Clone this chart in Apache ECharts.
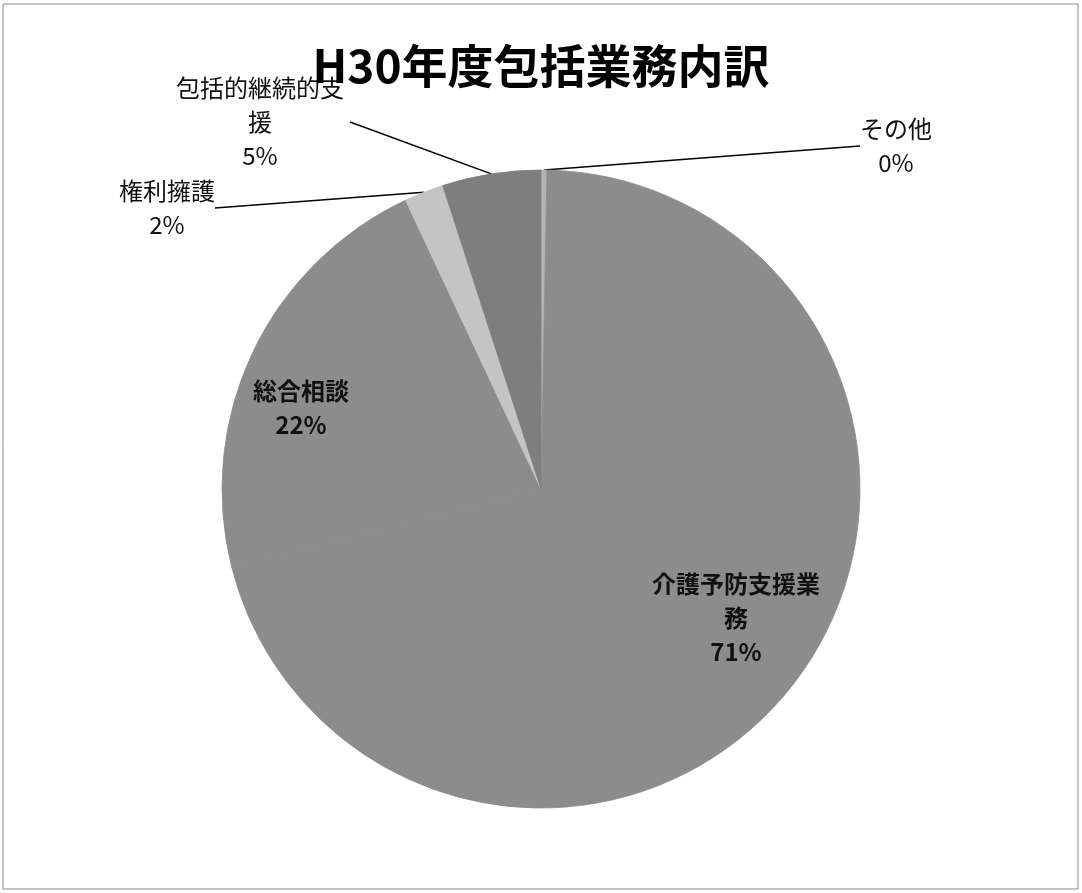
<!DOCTYPE html>
<html><head><meta charset="utf-8">
<script src="https://cdn.jsdelivr.net/npm/echarts@6/dist/echarts.min.js"></script>
<style>html,body{margin:0;padding:0;background:#fff}#c{width:1082px;height:893px}</style>
</head><body><div id="c"></div>
<script>
const chartTitle = 'H30年度包括業務内訳';
const categories = ['その他', '介護予防支援業務', '総合相談', '権利擁護', '包括的継続的支援'];
const values = [0.3, 71, 22, 2, 5];
const palette = ['#b3b3b3', '#8c8c8c', '#8c8c8c', '#c4c4c4', '#7e7e7e'];
const insideCategories = ['介護予防支援業務', '総合相談'];
const labelCenters = {
  'その他': [896, 146],
  '介護予防支援業務': [736, 618],
  '総合相談': [301, 408],
  '権利擁護': [167, 208],
  '包括的継続的支援': [260, 122]
};
const FONT = '"Noto Sans CJK JP", "Noto Sans", sans-serif';
const WRAP_WIDTH = 180;

const data = categories.map((name, i) => {
  const inside = insideCategories.includes(name);
  const label = { color: '#111' };
  if (inside) label.fontWeight = 'bold';
  if (name.length > 7) { label.width = WRAP_WIDTH; label.overflow = 'break'; }
  return {
    name: name,
    value: values[i],
    itemStyle: { color: palette[i], borderColor: palette[i], borderWidth: 0.8 },
    label: label,
    labelLine: { show: !inside }
  };
});

const chart = echarts.init(document.getElementById('c'), null, { renderer: 'canvas' });
chart.setOption({
  backgroundColor: '#fff',
  animation: false,
  title: {
    text: chartTitle,
    left: 'center',
    top: 38,
    textStyle: { fontFamily: FONT, fontSize: 46, fontWeight: 'bold', color: '#000' }
  },
  graphic: [{
    type: 'rect',
    shape: { x: 3, y: 4, width: 1075, height: 885 },
    style: { fill: 'none', stroke: '#8a8a8a', lineWidth: 1 }
  }],
  series: [{
    type: 'pie',
    center: [541, 489],
    radius: 319,
    startAngle: 90,
    clockwise: true,
    percentPrecision: 0,
    avoidLabelOverlap: false,
    data: data,
    label: {
      show: true,
      formatter: '{b}\n{d}%',
      fontFamily: FONT,
      fontSize: 24,
      lineHeight: 34,
      align: 'center'
    },
    labelLine: {
      show: true,
      length: 20,
      length2: 0,
      lineStyle: { color: '#000', width: 1.5 }
    },
    labelLayout: function (params) {
      const name = categories[params.dataIndex];
      const c = labelCenters[name];
      return { x: c[0], y: c[1], align: 'center', verticalAlign: 'middle' };
    },
    emphasis: { disabled: true }
  }]
});
</script>
</body></html>
